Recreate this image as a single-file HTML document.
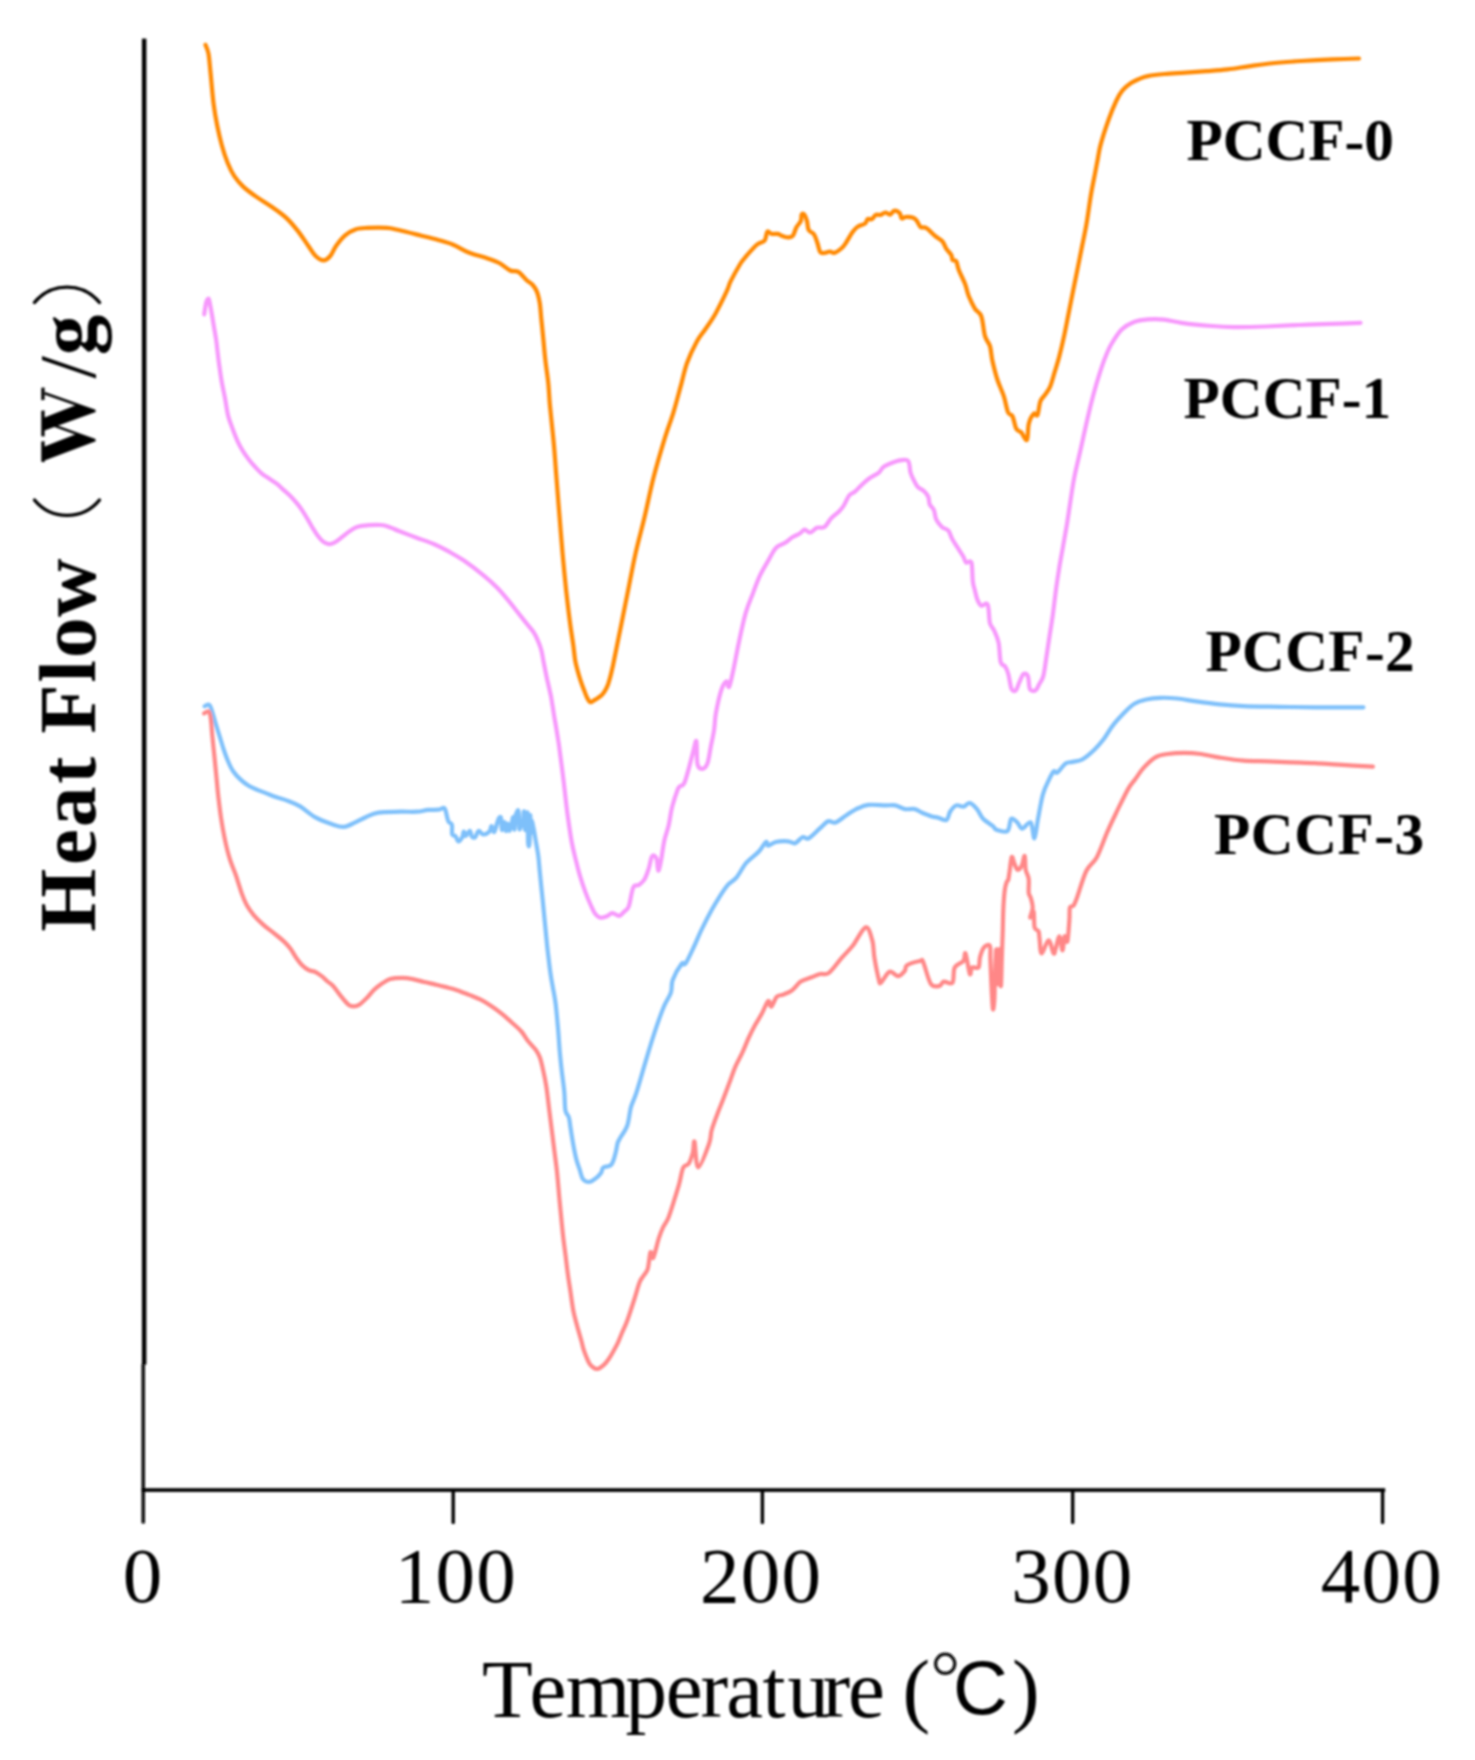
<!DOCTYPE html>
<html><head><meta charset="utf-8"><title>Heat Flow</title>
<style>html,body{margin:0;padding:0;background:#fff;}svg{display:block;}</style>
</head><body>
<svg width="1475" height="1760" viewBox="0 0 1475 1760">
<rect width="1475" height="1760" fill="#fff"/>
<defs><filter id="bl" x="0" y="0" width="1475" height="1760" filterUnits="userSpaceOnUse"><feGaussianBlur stdDeviation="0.8"/></filter></defs>
<g filter="url(#bl)">
<rect x="141.9" y="38.6" width="4.5" height="1326" fill="#000"/>
<rect x="141.5" y="1363.6" width="3.5" height="160" rx="1.2" fill="#0a0a0a"/>
<rect x="141.6" y="1488.2" width="1243.6" height="3.7" fill="#000"/>
<rect x="451.5" y="1490" width="3.4" height="34" rx="1.2" fill="#000"/>
<rect x="760.7" y="1490" width="3.4" height="34" rx="1.2" fill="#000"/>
<rect x="1071.0" y="1490" width="3.4" height="34" rx="1.2" fill="#000"/>
<rect x="1380.9" y="1490" width="3.4" height="34" rx="1.2" fill="#000"/>
<text x="143.0" y="1601.5" font-family="'Liberation Serif', serif" font-size="79" letter-spacing="1.2" text-anchor="middle" fill="#000">0</text>
<text x="455.9" y="1601.5" font-family="'Liberation Serif', serif" font-size="79" letter-spacing="1.2" text-anchor="middle" fill="#000">100</text>
<text x="761.1" y="1601.5" font-family="'Liberation Serif', serif" font-size="79" letter-spacing="1.2" text-anchor="middle" fill="#000">200</text>
<text x="1072.3" y="1601.5" font-family="'Liberation Serif', serif" font-size="79" letter-spacing="1.2" text-anchor="middle" fill="#000">300</text>
<text x="1381.8" y="1601.5" font-family="'Liberation Serif', serif" font-size="79" letter-spacing="1.2" text-anchor="middle" fill="#000">400</text>
<text y="1716.5" font-family="'Liberation Serif', serif" font-size="83" fill="#000"><tspan x="482.1">T</tspan><tspan x="529.5">e</tspan><tspan x="565.8">m</tspan><tspan x="625.5">p</tspan><tspan x="665.8">e</tspan><tspan x="700.6">r</tspan><tspan x="726.3">a</tspan><tspan x="762.5">t</tspan><tspan x="787.4">u</tspan><tspan x="822.6">r</tspan><tspan x="848.0">e</tspan></text>
<text x="902.5" y="1716.5" font-family="'Liberation Serif', serif" font-size="83" fill="#000">(</text>
<text x="1011.9" y="1716.5" font-family="'Liberation Serif', serif" font-size="83" fill="#000">)</text>
<circle cx="945.2" cy="1663.8" r="9.6" fill="none" stroke="#111" stroke-width="3.2"/>
<text x="953.1" y="1713.9" font-family="'Liberation Sans', sans-serif" font-size="76" fill="#000">C</text>
<text x="1186.5" y="160.3" font-family="'Liberation Serif', serif" font-weight="bold" font-size="59.3" fill="#000">PCCF-0</text>
<text x="1183.6" y="418.4" font-family="'Liberation Serif', serif" font-weight="bold" font-size="59.3" fill="#000">PCCF-1</text>
<text x="1205.6" y="671" font-family="'Liberation Serif', serif" font-weight="bold" font-size="59.3" letter-spacing="0.3" fill="#000">PCCF-2</text>
<text x="1214" y="853.5" font-family="'Liberation Serif', serif" font-weight="bold" font-size="59.3" letter-spacing="0.55" fill="#000">PCCF-3</text>
<g transform="translate(94.6,0) rotate(-90)">
<text x="-931.8" y="0" font-family="'Liberation Serif', serif" font-weight="bold" font-size="81" fill="#000">H</text>
<text x="-864.9" y="0" font-family="'Liberation Serif', serif" font-weight="bold" font-size="81" fill="#000">e</text>
<text x="-826.9" y="0" font-family="'Liberation Serif', serif" font-weight="bold" font-size="81" fill="#000">a</text>
<text x="-783.8" y="0" font-family="'Liberation Serif', serif" font-weight="bold" font-size="81" fill="#000">t</text>
<text x="-733.7" y="0" font-family="'Liberation Serif', serif" font-weight="bold" font-size="81" fill="#000">F</text>
<text x="-682.6" y="0" font-family="'Liberation Serif', serif" font-weight="bold" font-size="81" fill="#000">l</text>
<text x="-658.0" y="0" font-family="'Liberation Serif', serif" font-weight="bold" font-size="81" fill="#000">o</text>
<text x="-616.9" y="0" font-family="'Liberation Serif', serif" font-weight="bold" font-size="81" fill="#000">w</text>
<text x="-378.5" y="0" font-family="'Liberation Serif', serif" font-weight="normal" font-size="81" fill="#000">/</text>
<text x="-355.2" y="0" font-family="'Liberation Serif', serif" font-weight="bold" font-size="81" fill="#000">g</text>
</g>
<path d="M41.3,441.6 L44.6,441.2 L44.6,446.6 L77,433.8 L95.6,439.4 L95.6,441.2 L44.6,460.6 L44.6,462.2 L41.3,461.8 Z M41.3,410.8 L44.6,410.4 L44.6,417.6 L76.2,405 L95.6,410.2 L95.6,412 L44.6,430.6 L44.6,436.6 L41.3,436.2 Z M41.3,387.8 L44.6,387.4 L44.6,399.8 L41.3,400.2 Z" fill="#000"/>
<path d="M95,440.2 L48,423.4 M95,411 L44.6,393.2" stroke="#000" stroke-width="2.6" fill="none"/>
<path d="M34.5,500 A42,42 0 0 0 99.5,500" fill="none" stroke="#000" stroke-width="3.4" stroke-linecap="round"/>
<path d="M34.5,302.5 A42,42 0 0 1 99.5,302.5" fill="none" stroke="#000" stroke-width="3.4" stroke-linecap="round"/>
<path d="M205.5,44.8 C206.0,46.3 207.6,48.7 208.5,53.6 C209.4,58.5 209.8,65.9 210.7,74.3 C211.5,82.7 212.5,95.3 213.6,103.9 C214.7,112.5 215.9,119.1 217.3,126.0 C218.7,132.9 220.1,139.0 221.8,145.2 C223.5,151.4 225.6,157.8 227.7,163.0 C229.8,168.2 231.7,172.3 234.3,176.2 C236.9,180.1 239.5,183.1 243.2,186.6 C246.9,190.1 251.8,193.6 256.5,196.9 C261.2,200.2 266.3,203.1 271.2,206.5 C276.1,209.9 281.6,213.5 286.0,217.6 C290.4,221.7 294.1,226.2 297.8,230.9 C301.5,235.6 305.2,241.5 308.2,245.7 C311.2,249.9 313.0,253.6 315.6,256.0 C318.2,258.4 321.2,260.4 323.7,260.4 C326.1,260.4 328.2,258.4 330.3,256.0 C332.4,253.6 333.7,249.1 336.2,245.7 C338.7,242.2 341.9,238.0 345.1,235.3 C348.3,232.6 351.7,230.6 355.4,229.4 C359.1,228.2 362.1,228.2 367.3,227.9 C372.5,227.6 381.8,227.5 386.8,227.8 C391.9,228.1 392.0,228.5 397.6,229.8 C403.2,231.1 413.9,233.8 420.7,235.5 C427.5,237.2 432.9,238.5 438.3,240.0 C443.7,241.5 448.2,242.7 453.2,244.7 C458.2,246.7 462.5,249.9 468.1,252.2 C473.8,254.5 481.9,256.5 487.1,258.3 C492.3,260.1 495.5,261.0 499.3,263.0 C503.1,265.0 507.0,269.0 510.2,270.5 C513.4,272.0 515.6,270.3 518.3,271.9 C521.0,273.5 524.1,277.9 526.4,280.0 C528.7,282.1 530.6,282.6 532.3,284.5 C534.0,286.4 535.6,288.4 536.8,291.4 C538.0,294.4 538.9,298.0 539.7,302.7 C540.5,307.4 540.8,314.1 541.4,319.8 C542.0,325.5 542.5,330.2 543.1,336.8 C543.8,343.4 544.4,351.9 545.3,359.5 C546.1,367.1 547.4,374.7 548.2,382.3 C549.0,389.9 549.2,397.4 549.9,405.0 C550.6,412.6 551.5,420.1 552.2,427.7 C553.0,435.3 553.8,442.9 554.4,450.5 C555.0,458.1 555.4,464.1 556.1,473.2 C556.8,482.3 557.9,495.5 558.6,505.0 C559.4,514.5 560.0,522.0 560.6,530.0 C561.2,538.0 561.9,545.8 562.5,552.8 C563.1,559.8 563.7,565.8 564.3,572.0 C564.9,578.2 565.5,584.0 566.1,590.0 C566.8,596.0 567.5,602.1 568.2,608.2 C568.9,614.3 569.7,620.4 570.5,626.4 C571.3,632.4 572.4,638.9 573.2,644.5 C574.0,650.1 574.4,655.7 575.1,660.0 C575.8,664.3 576.6,666.8 577.5,670.2 C578.4,673.6 579.4,676.9 580.5,680.3 C581.6,683.7 583.1,687.7 584.2,690.5 C585.3,693.3 585.9,695.3 586.9,697.3 C587.9,699.2 589.2,701.7 590.3,702.2 C591.4,702.7 592.6,701.1 593.7,700.5 C594.8,699.9 595.7,699.6 597.1,698.6 C598.5,697.6 600.8,696.1 602.2,694.6 C603.6,693.1 604.6,691.6 605.6,689.8 C606.6,688.0 607.4,686.1 608.3,683.7 C609.1,681.3 610.0,678.1 610.7,675.3 C611.4,672.5 612.1,669.3 612.7,666.8 C613.3,664.2 612.7,666.7 614.1,660.0 C615.5,653.3 618.5,638.1 620.9,626.4 C623.2,614.7 625.8,602.1 628.2,590.0 C630.6,577.9 632.8,565.7 635.5,553.6 C638.2,541.5 641.5,530.0 644.5,517.3 C647.5,504.6 650.3,490.3 653.6,477.3 C656.9,464.3 661.2,450.0 664.5,439.1 C667.8,428.2 670.8,421.1 673.6,411.8 C676.4,402.6 679.1,391.8 681.4,383.6 C683.6,375.4 684.6,369.6 687.1,362.7 C689.6,355.8 693.6,347.4 696.6,341.9 C699.6,336.4 701.9,334.2 705.1,329.5 C708.3,324.8 712.0,319.9 715.6,313.4 C719.2,306.9 724.5,296.0 727.0,290.6 C729.5,285.2 728.5,285.5 730.7,281.1 C732.9,276.7 737.8,268.0 740.2,264.0 C742.6,260.0 743.6,259.4 745.3,257.3 C747.0,255.2 748.5,253.3 750.6,251.1 C752.7,248.9 755.2,245.9 757.6,244.1 C760.0,242.3 763.1,242.6 764.7,240.5 C766.3,238.4 766.1,232.8 767.3,231.7 C768.5,230.6 769.9,233.5 771.7,233.9 C773.5,234.3 776.1,233.5 777.9,233.9 C779.7,234.3 780.5,235.5 782.3,236.1 C784.1,236.7 786.7,237.5 788.5,237.4 C790.3,237.3 791.6,237.4 792.9,235.7 C794.2,234.0 795.1,229.7 796.4,227.3 C797.7,224.9 799.9,223.2 800.8,221.1 C801.7,219.0 801.1,215.6 801.7,214.5 C802.3,213.4 803.4,213.4 804.3,214.5 C805.2,215.6 806.3,218.5 807.0,221.1 C807.7,223.7 807.5,227.8 808.7,230.0 C809.9,232.2 812.5,232.2 814.0,234.4 C815.5,236.6 816.5,240.3 817.5,243.2 C818.5,246.1 819.0,250.4 820.2,252.0 C821.4,253.6 823.0,253.0 824.6,252.9 C826.2,252.8 828.3,251.5 829.9,251.5 C831.5,251.5 832.4,253.4 834.3,252.9 C836.2,252.4 839.4,250.1 841.3,248.5 C843.2,246.9 843.8,246.0 845.7,243.2 C847.6,240.4 850.7,234.5 852.8,231.7 C854.9,228.9 856.1,227.8 858.1,226.4 C860.1,225.1 863.4,224.8 865.0,223.6 C866.6,222.4 866.6,219.8 867.7,219.1 C868.8,218.4 870.4,219.9 871.8,219.2 C873.1,218.5 874.3,215.6 875.8,214.9 C877.3,214.2 879.0,215.3 880.6,214.9 C882.2,214.5 883.7,212.6 885.3,212.5 C886.9,212.4 888.6,214.9 890.1,214.6 C891.6,214.3 892.6,211.1 894.2,210.8 C895.8,210.5 898.4,211.7 899.6,212.9 C900.8,214.2 900.6,217.6 901.6,218.3 C902.6,219.0 903.9,217.1 905.7,217.0 C907.5,216.9 910.7,217.0 912.5,217.6 C914.3,218.2 915.1,218.7 916.5,220.3 C917.9,221.9 919.0,225.7 920.6,227.0 C922.2,228.3 923.8,226.4 926.3,228.0 C928.8,229.6 933.1,234.3 935.8,236.5 C938.5,238.7 940.6,239.3 942.4,241.3 C944.1,243.3 944.8,246.5 946.3,248.8 C947.8,251.0 950.3,253.1 951.3,255.0 C952.3,256.9 951.7,258.9 952.5,260.0 C953.3,261.1 955.2,259.6 956.3,261.3 C957.3,263.0 957.3,266.3 958.8,270.0 C960.2,273.7 963.3,279.4 965.0,283.8 C966.7,288.1 967.1,292.1 968.8,296.2 C970.5,300.4 972.9,305.4 975.0,308.8 C977.1,312.1 979.6,311.7 981.3,316.2 C983.0,320.8 983.5,331.2 985.0,336.2 C986.5,341.2 988.8,342.1 990.0,346.2 C991.2,350.4 991.2,355.6 992.5,361.2 C993.8,366.9 995.6,374.2 997.5,380.0 C999.4,385.8 1002.0,390.8 1003.8,396.2 C1005.6,401.7 1006.6,409.2 1008.1,412.5 C1009.6,415.8 1011.1,413.5 1012.5,416.2 C1013.9,419.0 1014.8,426.0 1016.3,428.8 C1017.8,431.5 1019.5,430.6 1021.3,432.5 C1023.1,434.4 1025.7,441.5 1026.9,440.0 C1028.2,438.5 1027.7,428.1 1028.8,423.8 C1029.9,419.4 1032.3,415.2 1033.8,413.8 C1035.2,412.3 1036.4,417.1 1037.5,415.0 C1038.6,412.9 1039.1,404.7 1040.5,401.1 C1041.9,397.6 1044.3,396.2 1045.9,393.7 C1047.5,391.2 1048.8,390.0 1050.3,386.3 C1051.8,382.6 1053.3,376.5 1054.8,371.6 C1056.3,366.7 1057.6,363.0 1059.2,356.8 C1060.8,350.6 1062.8,342.0 1064.4,334.6 C1066.0,327.2 1067.3,319.9 1068.8,312.5 C1070.3,305.1 1071.7,297.7 1073.2,290.3 C1074.7,282.9 1076.2,275.6 1077.7,268.2 C1079.2,260.8 1080.6,253.4 1082.1,246.0 C1083.6,238.6 1085.0,232.5 1086.5,223.9 C1088.0,215.3 1089.6,202.4 1091.0,194.3 C1092.4,186.2 1093.6,180.8 1094.7,175.1 C1095.8,169.4 1096.6,165.0 1097.6,160.0 C1098.6,155.0 1098.7,151.8 1100.5,145.1 C1102.3,138.4 1105.9,127.3 1108.5,120.0 C1111.1,112.7 1113.9,105.9 1116.2,101.0 C1118.5,96.1 1120.0,93.4 1122.5,90.4 C1125.0,87.4 1128.2,85.0 1131.0,83.1 C1133.8,81.2 1136.6,80.1 1139.4,78.9 C1142.2,77.7 1143.6,76.9 1147.8,76.1 C1152.0,75.3 1158.3,74.6 1164.6,74.0 C1170.9,73.4 1178.6,73.1 1185.6,72.6 C1192.6,72.1 1199.6,71.6 1206.6,71.1 C1213.6,70.6 1220.6,70.2 1227.6,69.4 C1234.6,68.6 1241.6,67.3 1248.6,66.3 C1255.6,65.3 1260.9,64.4 1269.7,63.5 C1278.5,62.6 1290.7,61.7 1301.2,61.0 C1311.7,60.3 1323.1,59.7 1332.7,59.3 C1342.3,58.9 1354.6,58.6 1359.0,58.5" fill="none" stroke="#FF8800" stroke-width="4.2" stroke-linejoin="round" stroke-linecap="round"/>
<path d="M204.2,314.4 C204.5,312.3 205.6,304.7 206.3,302.1 C207.1,299.5 208.1,298.4 208.7,298.7 C209.3,299.0 209.4,301.3 210.0,304.1 C210.6,306.9 211.4,311.8 212.1,315.7 C212.8,319.6 213.4,323.6 214.1,327.7 C214.8,331.8 215.6,335.9 216.2,340.0 C216.8,344.1 217.1,348.0 217.6,352.0 C218.1,356.0 218.4,359.2 219.1,364.1 C219.8,369.0 220.6,375.4 221.6,381.1 C222.6,386.8 223.9,392.5 225.0,398.2 C226.1,403.9 226.8,410.2 228.0,415.2 C229.2,420.2 230.7,423.7 232.3,428.0 C233.9,432.3 235.6,436.8 237.4,440.8 C239.2,444.8 241.3,448.5 243.4,451.9 C245.5,455.3 248.1,458.5 250.0,461.0 C251.9,463.5 253.0,464.7 255.0,466.8 C257.0,468.9 259.5,471.7 261.8,473.6 C264.1,475.5 266.1,476.6 268.6,478.3 C271.1,480.0 274.2,481.8 276.7,483.7 C279.2,485.6 281.2,487.8 283.5,489.8 C285.8,491.8 288.1,493.6 290.3,495.9 C292.6,498.2 295.0,500.9 297.0,503.4 C299.0,505.9 300.7,508.1 302.5,510.8 C304.3,513.5 306.2,516.9 307.9,519.7 C309.6,522.5 311.0,525.2 312.6,527.8 C314.2,530.4 315.7,533.0 317.4,535.3 C319.1,537.6 320.9,539.9 322.8,541.4 C324.7,542.9 327.0,543.9 328.9,544.1 C330.8,544.3 332.1,543.8 334.3,542.7 C336.5,541.6 339.4,539.1 341.8,537.3 C344.2,535.5 346.4,533.5 348.6,531.9 C350.8,530.3 352.8,528.8 355.0,527.8 C357.2,526.8 357.5,526.3 361.8,525.8 C366.1,525.3 376.1,524.7 380.9,525.0 C385.7,525.3 387.4,526.4 390.4,527.4 C393.4,528.4 394.5,529.3 398.9,531.0 C403.3,532.7 410.7,535.5 416.6,537.7 C422.5,539.9 428.9,542.0 434.3,544.3 C439.7,546.6 444.2,549.0 449.1,551.7 C454.0,554.4 458.1,556.6 463.9,560.6 C469.7,564.6 478.3,571.2 483.8,575.7 C489.3,580.2 492.9,583.5 496.7,587.3 C500.5,591.0 503.3,594.5 506.4,598.2 C509.5,601.9 512.5,605.7 515.5,609.5 C518.5,613.3 521.5,617.1 524.5,620.9 C527.5,624.7 531.3,628.9 533.6,632.3 C535.9,635.7 536.9,638.4 538.2,641.4 C539.5,644.4 540.5,647.1 541.4,650.5 C542.3,653.9 542.8,657.8 543.6,662.0 C544.4,666.2 545.5,671.5 546.3,675.5 C547.1,679.5 547.8,682.3 548.6,685.7 C549.4,689.1 550.2,692.5 550.9,695.9 C551.6,699.3 552.0,702.8 552.6,706.2 C553.2,709.6 553.6,713.0 554.2,716.4 C554.8,719.8 555.3,722.3 556.0,726.6 C556.7,730.9 557.9,738.1 558.5,742.0 C559.1,745.9 558.8,743.5 559.6,750.0 C560.5,756.5 562.3,770.2 563.6,781.0 C564.9,791.8 566.2,804.7 567.6,814.9 C569.0,825.1 570.3,834.4 571.7,842.0 C573.1,849.6 574.6,855.0 576.0,860.8 C577.4,866.6 578.6,871.3 580.2,876.6 C581.8,881.9 583.8,887.7 585.5,892.4 C587.2,897.1 589.1,901.5 590.7,905.0 C592.3,908.5 593.3,911.3 594.9,913.4 C596.5,915.5 598.3,917.1 600.2,917.6 C602.1,918.1 604.5,917.2 606.5,916.5 C608.5,915.8 610.3,913.3 612.4,913.2 C614.5,913.1 617.2,916.2 619.2,915.9 C621.2,915.6 623.0,912.8 624.6,911.2 C626.2,909.6 627.5,910.1 628.9,906.1 C630.3,902.1 631.6,890.8 633.3,887.3 C634.9,883.8 636.9,886.3 638.8,885.0 C640.6,883.7 642.7,882.3 644.4,879.5 C646.1,876.7 647.5,872.3 648.8,868.4 C650.1,864.5 650.8,857.9 652.1,856.2 C653.4,854.6 655.5,856.1 656.5,858.5 C657.5,860.9 657.5,870.2 658.2,870.6 C659.0,871.0 660.0,865.7 661.0,860.7 C662.0,855.7 663.0,846.6 664.3,840.7 C665.6,834.8 667.4,830.7 668.7,825.2 C670.0,819.7 670.5,813.4 672.0,807.5 C673.5,801.6 676.3,793.3 677.6,789.8 C678.9,786.3 678.7,787.6 679.8,786.5 C680.9,785.4 682.7,786.2 684.2,783.2 C685.7,780.2 687.2,774.0 688.7,768.8 C690.2,763.6 691.8,756.7 693.1,752.1 C694.4,747.5 695.7,739.1 696.4,741.1 C697.1,743.1 696.5,759.7 697.5,764.3 C698.5,768.9 700.8,769.0 702.5,768.8 C704.2,768.6 706.1,766.9 707.5,763.2 C708.9,759.5 709.7,752.1 710.8,746.6 C711.9,741.1 713.2,735.6 714.1,730.0 C715.0,724.4 714.7,719.8 715.9,713.2 C717.1,706.6 719.5,695.6 721.2,690.3 C723.0,685.0 725.1,682.1 726.4,681.5 C727.7,680.9 727.9,688.8 729.1,686.8 C730.3,684.8 731.9,676.6 733.5,669.2 C735.1,661.9 736.8,652.1 738.8,642.7 C740.8,633.3 743.4,620.9 745.8,612.7 C748.1,604.5 750.5,599.6 752.9,593.4 C755.2,587.2 757.3,581.3 759.9,575.7 C762.5,570.1 766.0,564.6 768.7,559.9 C771.4,555.2 773.4,550.5 776.1,547.7 C778.8,544.9 782.0,544.7 784.7,543.0 C787.4,541.3 789.8,538.9 792.3,537.3 C794.8,535.7 797.8,534.8 799.8,533.5 C801.8,532.2 802.9,529.9 804.6,529.7 C806.4,529.5 808.2,532.8 810.3,532.5 C812.3,532.2 814.5,528.7 816.9,527.8 C819.3,526.9 822.1,528.5 824.5,526.9 C826.9,525.3 828.8,520.8 831.2,518.3 C833.6,515.8 836.7,513.8 838.7,511.7 C840.8,509.6 841.8,508.7 843.5,506.0 C845.2,503.3 847.3,497.9 849.2,495.5 C851.1,493.1 852.9,493.4 854.9,491.7 C856.9,490.0 859.1,487.3 861.5,485.1 C863.9,482.9 866.2,480.6 869.1,478.5 C872.0,476.4 876.2,474.7 878.6,472.8 C881.0,470.9 881.2,468.7 883.3,467.1 C885.3,465.5 888.1,464.4 890.9,463.3 C893.7,462.2 897.1,460.8 900.0,460.4 C902.9,460.0 906.4,458.8 908.1,460.8 C909.9,462.8 909.6,469.3 910.5,472.5 C911.4,475.7 912.5,477.6 913.7,480.0 C914.9,482.4 915.8,484.7 917.5,486.6 C919.2,488.5 922.3,489.5 924.1,491.2 C925.9,492.9 927.4,494.7 928.3,496.9 C929.2,499.1 928.8,502.2 929.7,504.4 C930.6,506.6 932.8,507.5 933.9,510.0 C935.0,512.5 934.9,516.6 936.2,519.4 C937.5,522.2 939.9,525.0 941.9,526.9 C943.9,528.8 946.7,528.6 948.4,530.6 C950.1,532.6 950.5,535.9 952.2,539.0 C953.9,542.1 956.8,546.4 958.7,549.4 C960.6,552.4 962.1,554.6 963.4,556.8 C964.6,559.0 964.9,561.5 966.2,562.5 C967.5,563.5 970.3,559.4 971.4,562.5 C972.5,565.6 972.2,576.7 972.8,581.2 C973.3,585.7 973.9,586.6 974.7,589.7 C975.5,592.8 976.4,597.4 977.5,600.0 C978.6,602.6 979.5,604.8 981.2,605.6 C982.9,606.4 986.2,601.7 987.7,604.6 C989.2,607.5 988.8,618.7 989.9,623.0 C991.0,627.3 992.8,627.3 994.2,630.6 C995.7,633.9 997.5,637.4 998.6,642.6 C999.7,647.9 999.6,658.1 1000.7,662.1 C1001.8,666.1 1003.8,664.4 1005.1,666.4 C1006.4,668.4 1007.2,670.2 1008.3,674.0 C1009.4,677.8 1010.3,686.5 1011.6,689.2 C1012.9,691.9 1014.6,691.4 1015.9,690.3 C1017.2,689.2 1017.9,685.4 1019.2,682.7 C1020.5,680.0 1022.0,675.1 1023.5,674.0 C1025.0,672.9 1026.8,673.7 1027.9,676.2 C1029.0,678.7 1028.7,686.9 1030.0,689.2 C1031.3,691.6 1034.0,691.1 1035.5,690.3 C1037.0,689.4 1038.0,686.5 1039.3,684.1 C1040.6,681.7 1042.2,680.3 1043.3,676.1 C1044.4,671.9 1045.1,665.7 1046.1,659.1 C1047.1,652.5 1048.3,644.0 1049.5,636.4 C1050.7,628.8 1052.0,621.2 1053.0,613.6 C1054.0,606.0 1054.8,598.5 1055.8,590.9 C1056.8,583.3 1058.0,575.8 1059.2,568.2 C1060.4,560.6 1061.9,553.1 1063.2,545.5 C1064.5,537.9 1066.0,530.3 1067.2,522.7 C1068.4,515.1 1069.4,507.6 1070.6,500.0 C1071.8,492.4 1072.6,486.0 1074.3,477.3 C1076.0,468.6 1078.8,457.7 1081.0,447.8 C1083.2,437.9 1085.5,427.0 1087.6,418.2 C1089.6,409.4 1091.3,402.4 1093.3,395.0 C1095.3,387.6 1097.5,380.1 1099.5,373.9 C1101.5,367.7 1103.0,362.9 1105.0,358.0 C1107.0,353.1 1108.5,349.0 1111.3,344.3 C1114.1,339.6 1117.9,333.3 1121.6,329.6 C1125.3,325.9 1129.0,323.9 1133.4,322.2 C1137.8,320.5 1143.1,319.8 1148.2,319.4 C1153.3,319.0 1158.5,319.0 1164.1,319.6 C1169.6,320.2 1173.5,321.7 1181.5,322.8 C1189.5,323.9 1203.2,325.3 1211.9,326.0 C1220.6,326.7 1224.6,327.0 1233.6,327.1 C1242.6,327.2 1255.2,326.9 1266.1,326.5 C1276.9,326.1 1287.8,325.4 1298.7,325.0 C1309.6,324.6 1320.9,324.3 1331.2,323.9 C1341.5,323.5 1355.6,323.0 1360.5,322.8" fill="none" stroke="#F797FC" stroke-width="4.2" stroke-linejoin="round" stroke-linecap="round"/>
<path d="M204.6,706.2 C205.4,706.0 208.0,704.0 209.2,704.7 C210.4,705.4 210.8,707.3 211.8,710.3 C212.8,713.3 214.1,718.3 215.4,722.6 C216.7,726.9 218.1,731.5 219.5,735.9 C220.9,740.3 222.2,745.1 223.6,749.2 C225.0,753.3 226.2,756.8 227.7,760.4 C229.2,764.0 230.6,767.5 232.8,770.7 C235.0,774.0 238.2,777.4 240.9,779.9 C243.6,782.4 246.2,784.3 249.1,786.0 C251.9,787.7 255.3,789.0 258.0,790.1 C260.7,791.2 262.3,791.8 265.3,792.9 C268.3,794.0 272.4,795.7 276.0,797.0 C279.6,798.3 283.2,799.0 287.2,800.6 C291.2,802.2 295.4,803.6 300.1,806.4 C304.8,809.2 310.1,814.4 315.5,817.4 C320.9,820.4 328.1,822.9 332.8,824.5 C337.5,826.1 340.2,827.2 343.8,826.9 C347.4,826.6 351.1,824.3 354.7,822.7 C358.3,821.1 361.7,818.9 365.7,817.2 C369.7,815.5 372.7,813.5 378.5,812.6 C384.3,811.7 394.1,811.9 400.5,811.7 C406.9,811.6 412.4,812.0 417.0,811.7 C421.6,811.4 424.5,810.2 428.0,809.9 C431.5,809.6 435.5,810.0 438.1,809.7 C440.7,809.4 442.2,807.9 443.4,807.9 C444.6,807.9 444.7,808.1 445.4,809.9 C446.1,811.7 446.9,816.7 447.5,818.7 C448.1,820.7 448.1,821.1 448.8,822.1 C449.5,823.1 451.3,822.8 451.9,824.8 C452.5,826.8 451.6,832.4 452.2,834.3 C452.8,836.2 454.6,835.2 455.6,836.4 C456.7,837.6 457.4,841.4 458.5,841.5 C459.6,841.6 461.5,838.6 462.4,837.0 C463.3,835.4 463.1,831.8 463.7,831.6 C464.3,831.4 464.8,836.1 465.8,836.0 C466.8,835.9 468.8,830.8 469.8,830.9 C470.8,831.0 471.0,835.5 471.9,836.5 C472.8,837.5 474.2,837.9 475.3,837.0 C476.4,836.1 477.2,831.3 478.6,830.9 C480.0,830.5 481.6,834.4 483.4,834.5 C485.2,834.6 488.1,832.9 489.5,831.5 C490.9,830.1 490.7,826.1 491.5,826.2 C492.3,826.3 493.3,832.5 494.2,832.0 C495.1,831.5 496.2,825.8 497.0,823.5 C497.8,821.2 498.3,819.0 499.0,818.1 C499.7,817.2 500.5,816.1 501.0,818.1 C501.5,820.1 501.4,829.3 502.0,830.0 C502.6,830.7 503.7,821.9 504.4,822.1 C505.1,822.3 505.4,830.8 506.0,831.0 C506.6,831.2 507.2,823.5 507.8,823.5 C508.4,823.5 508.8,831.1 509.5,831.0 C510.2,830.9 511.3,825.1 511.9,822.8 C512.5,820.5 512.8,816.3 513.2,817.4 C513.7,818.5 514.2,829.7 514.6,829.6 C515.0,829.5 514.8,819.8 515.3,816.7 C515.8,813.7 516.8,812.1 517.3,811.3 C517.8,810.5 518.2,808.9 518.6,811.9 C519.0,814.9 519.1,826.9 519.5,829.0 C519.9,831.1 520.2,825.5 520.7,824.8 C521.2,824.1 522.1,827.0 522.7,824.8 C523.3,822.5 523.7,810.4 524.1,811.3 C524.5,812.2 524.4,829.8 525.0,830.0 C525.6,830.2 527.0,810.5 527.5,812.6 C528.0,814.7 527.8,837.4 528.1,842.5 C528.4,847.6 529.1,847.5 529.5,843.0 C529.9,838.5 530.0,817.0 530.2,815.3 C530.4,813.6 530.6,832.0 530.8,832.9 C531.0,833.8 531.0,821.6 531.5,820.8 C532.0,820.0 532.8,824.8 533.5,828.0 C534.2,831.2 534.8,835.5 535.6,840.0 C536.4,844.5 537.5,850.2 538.2,855.3 C538.9,860.4 539.2,865.6 539.7,870.7 C540.2,875.8 540.7,880.9 541.2,886.0 C541.7,891.1 542.3,896.2 542.8,901.3 C543.3,906.4 543.8,911.6 544.3,916.7 C544.8,921.8 545.2,926.0 545.8,932.0 C546.4,938.0 547.1,945.7 547.9,952.5 C548.7,959.3 549.5,966.9 550.4,972.9 C551.2,978.9 552.1,983.2 553.0,988.3 C553.9,993.4 554.7,996.6 555.6,1003.6 C556.5,1010.6 557.5,1022.6 558.2,1030.5 C558.9,1038.4 559.1,1044.1 559.7,1050.9 C560.3,1057.7 561.0,1064.6 561.8,1071.4 C562.6,1078.2 563.7,1085.4 564.3,1091.9 C564.9,1098.4 564.6,1106.0 565.4,1110.3 C566.2,1114.6 568.0,1114.6 568.9,1117.5 C569.8,1120.4 569.8,1123.4 570.5,1127.7 C571.2,1132.0 572.1,1138.0 573.0,1143.1 C573.9,1148.2 575.0,1154.0 576.1,1158.4 C577.2,1162.8 578.6,1166.3 579.7,1169.7 C580.8,1173.1 581.3,1176.9 582.8,1178.9 C584.3,1181.0 586.9,1182.0 588.9,1182.0 C590.9,1182.0 593.0,1180.5 595.0,1178.9 C597.0,1177.4 599.8,1174.6 601.2,1172.7 C602.6,1170.8 601.5,1168.9 603.2,1167.6 C604.9,1166.2 609.4,1167.0 611.4,1164.6 C613.4,1162.2 614.5,1156.9 615.5,1153.3 C616.5,1149.7 616.9,1145.6 617.6,1143.1 C618.4,1140.6 618.4,1141.1 620.0,1138.2 C621.6,1135.3 625.5,1130.7 627.3,1125.5 C629.1,1120.3 629.4,1112.8 630.9,1107.3 C632.4,1101.8 634.0,1100.3 636.4,1092.7 C638.8,1085.1 642.5,1071.8 645.5,1061.8 C648.5,1051.8 651.5,1041.8 654.5,1032.7 C657.5,1023.6 660.9,1014.0 663.6,1007.3 C666.3,1000.6 669.4,997.2 670.9,992.7 C672.4,988.2 670.9,984.9 672.7,980.0 C674.5,975.1 679.7,966.3 681.8,963.6 C683.9,960.9 683.4,966.6 685.5,963.6 C687.6,960.6 691.8,951.2 694.5,945.5 C697.2,939.8 698.8,935.2 701.8,929.1 C704.8,923.0 709.2,914.5 712.2,909.1 C715.2,903.7 716.9,901.0 719.5,896.9 C722.1,892.8 725.2,888.0 728.1,884.7 C731.0,881.5 733.6,881.1 736.6,877.4 C739.6,873.7 742.7,867.0 746.4,862.7 C750.1,858.4 755.4,855.2 758.6,851.8 C761.9,848.3 764.3,843.0 765.9,842.0 C767.5,841.0 766.7,845.7 768.3,845.7 C769.9,845.7 772.4,842.7 775.7,842.0 C779.0,841.3 784.6,841.1 787.9,841.3 C791.1,841.5 792.8,843.9 795.2,843.2 C797.6,842.5 800.3,837.9 802.5,837.1 C804.7,836.3 805.8,839.7 808.6,838.3 C811.5,836.9 816.4,831.4 819.6,828.6 C822.9,825.8 825.5,822.3 828.1,821.3 C830.8,820.3 832.5,823.5 835.5,822.5 C838.5,821.5 842.9,817.4 846.4,815.2 C849.9,813.0 852.5,810.8 856.2,809.1 C859.9,807.4 863.5,805.5 868.4,804.9 C873.3,804.3 881.0,805.3 885.5,805.4 C890.0,805.5 892.0,804.8 895.3,805.4 C898.5,806.0 901.8,808.5 905.0,809.1 C908.2,809.7 911.9,808.5 914.8,809.1 C917.6,809.7 919.2,811.5 922.1,812.7 C925.0,813.9 929.2,815.6 931.9,816.4 C934.5,817.2 935.6,817.0 938.0,817.6 C940.4,818.2 944.5,821.0 946.5,820.0 C948.5,819.0 948.6,813.9 950.2,811.5 C951.8,809.1 954.1,806.2 956.3,805.4 C958.5,804.6 961.4,807.0 963.6,806.6 C965.8,806.2 967.5,802.6 969.7,803.0 C971.9,803.4 974.8,806.5 977.0,809.1 C979.2,811.7 980.5,816.0 983.1,818.8 C985.8,821.6 990.6,824.3 992.9,826.1 C995.1,827.9 994.2,829.0 996.6,829.8 C999.0,830.6 1005.1,832.8 1007.5,831.0 C1009.9,829.2 1009.6,820.2 1011.2,818.8 C1012.8,817.4 1015.5,820.9 1017.3,822.5 C1019.1,824.1 1020.0,828.6 1022.2,828.6 C1024.4,828.6 1028.7,820.9 1030.7,822.5 C1032.7,824.1 1033.2,838.9 1034.4,838.3 C1035.6,837.7 1036.6,826.1 1038.0,818.8 C1039.4,811.5 1041.1,800.9 1042.9,794.4 C1044.7,787.9 1047.2,783.5 1049.0,779.7 C1050.8,775.9 1052.3,772.6 1053.7,771.4 C1055.1,770.2 1055.3,773.8 1057.3,772.5 C1059.3,771.2 1063.0,765.3 1065.6,763.5 C1068.2,761.7 1069.9,762.6 1072.7,761.9 C1075.5,761.2 1078.6,761.5 1082.2,759.5 C1085.8,757.5 1090.5,753.4 1094.1,750.0 C1097.7,746.6 1100.4,743.4 1103.6,739.3 C1106.8,735.1 1109.5,729.6 1113.1,725.1 C1116.6,720.6 1121.4,715.6 1124.9,712.0 C1128.5,708.4 1130.8,705.8 1134.4,703.7 C1138.0,701.6 1142.0,700.5 1146.3,699.5 C1150.6,698.5 1155.4,698.0 1160.5,697.8 C1165.6,697.6 1171.2,697.9 1177.1,698.5 C1183.0,699.1 1189.0,700.4 1196.1,701.4 C1203.2,702.4 1211.9,703.6 1219.8,704.4 C1227.7,705.2 1233.7,705.7 1243.6,706.1 C1253.5,706.5 1267.3,706.6 1279.2,706.8 C1291.1,707.0 1300.8,707.2 1314.8,707.3 C1328.8,707.4 1355.3,707.3 1363.4,707.3" fill="none" stroke="#7EC0FA" stroke-width="4.2" stroke-linejoin="round" stroke-linecap="round"/>
<path d="M204.1,713.4 C204.9,713.1 207.6,710.5 208.7,711.4 C209.8,712.2 210.2,714.4 210.8,718.5 C211.4,722.6 211.7,729.6 212.3,735.9 C212.9,742.2 213.7,749.5 214.4,756.3 C215.1,763.1 215.7,770.0 216.4,776.8 C217.1,783.6 217.6,790.4 218.4,797.2 C219.2,804.0 220.0,810.9 221.0,817.7 C222.0,824.5 223.2,831.3 224.6,838.1 C226.0,844.9 227.8,852.5 229.7,858.6 C231.6,864.8 234.4,871.1 235.8,875.0 C237.2,878.9 237.0,878.8 238.0,881.9 C239.0,885.0 240.5,890.0 241.9,893.9 C243.3,897.8 244.7,901.4 246.7,905.0 C248.7,908.6 251.1,912.0 253.9,915.3 C256.7,918.6 260.0,921.8 263.4,924.9 C266.8,928.0 271.1,930.8 274.5,933.6 C277.9,936.4 281.4,939.1 284.1,941.6 C286.8,944.1 288.5,946.1 290.5,948.8 C292.5,951.4 294.1,954.9 296.0,957.5 C297.9,960.1 299.5,962.6 301.6,964.7 C303.7,966.8 306.6,969.0 308.8,970.2 C311.1,971.4 312.9,970.7 315.1,971.8 C317.4,972.9 320.3,975.1 322.3,976.6 C324.3,978.1 325.2,979.4 327.0,981.0 C328.8,982.6 330.7,983.4 333.1,986.0 C335.5,988.6 338.7,993.5 341.3,996.6 C343.9,999.7 346.6,1003.2 348.6,1004.8 C350.6,1006.4 351.7,1006.4 353.5,1006.4 C355.3,1006.4 356.9,1006.3 359.2,1004.8 C361.5,1003.3 364.9,999.8 367.3,997.4 C369.7,995.0 371.4,992.4 373.8,990.1 C376.2,987.8 379.3,985.4 382.0,983.6 C384.7,981.8 386.7,980.1 390.1,979.1 C393.5,978.1 398.5,977.9 402.3,977.9 C406.1,977.9 409.2,978.4 412.9,979.1 C416.6,979.8 420.6,981.1 424.3,982.0 C428.0,982.9 431.4,983.6 434.8,984.4 C438.2,985.2 441.3,985.9 445.0,986.9 C448.7,987.9 453.0,988.9 457.0,990.2 C461.0,991.5 465.2,993.3 469.2,994.9 C473.1,996.5 477.1,997.9 480.7,999.7 C484.3,1001.5 487.4,1003.5 490.8,1005.8 C494.2,1008.0 497.6,1010.5 501.0,1013.2 C504.4,1015.9 507.8,1019.0 511.2,1022.0 C514.6,1025.0 518.6,1028.3 521.4,1031.5 C524.2,1034.7 525.6,1038.0 528.0,1041.0 C530.4,1044.0 533.5,1046.9 535.5,1049.6 C537.5,1052.3 538.5,1053.8 539.8,1057.2 C541.1,1060.6 542.0,1065.2 543.1,1070.1 C544.2,1074.9 545.3,1080.0 546.3,1086.3 C547.3,1092.6 548.1,1100.7 549.0,1107.9 C549.9,1115.1 550.8,1122.3 551.7,1129.5 C552.6,1136.7 553.5,1143.9 554.4,1151.1 C555.3,1158.3 556.3,1164.8 557.1,1172.7 C557.9,1180.6 558.7,1191.2 559.4,1198.7 C560.1,1206.2 560.6,1211.2 561.2,1217.5 C561.8,1223.8 562.4,1230.0 563.1,1236.2 C563.8,1242.5 564.7,1248.8 565.5,1255.0 C566.3,1261.2 566.9,1267.5 567.8,1273.7 C568.6,1280.0 569.7,1286.2 570.6,1292.5 C571.5,1298.8 572.3,1305.6 573.4,1311.2 C574.5,1316.8 575.9,1321.2 577.2,1326.2 C578.6,1331.2 580.5,1337.5 581.5,1341.3 C582.5,1345.1 582.7,1346.6 583.5,1349.2 C584.3,1351.8 585.3,1354.4 586.3,1356.8 C587.3,1359.2 588.4,1362.0 589.6,1363.8 C590.8,1365.6 592.1,1366.6 593.3,1367.5 C594.5,1368.4 595.7,1369.0 597.0,1369.0 C598.3,1369.0 599.5,1368.2 600.9,1367.2 C602.3,1366.2 604.1,1364.7 605.5,1363.2 C606.9,1361.7 608.0,1360.0 609.2,1358.3 C610.4,1356.6 611.1,1355.3 612.5,1352.8 C613.9,1350.3 616.2,1346.2 617.7,1343.1 C619.2,1340.0 619.9,1337.8 621.5,1334.0 C623.1,1330.2 625.2,1326.2 627.3,1320.5 C629.4,1314.8 632.0,1306.4 634.1,1300.0 C636.2,1293.6 638.0,1286.4 639.6,1282.3 C641.2,1278.2 642.3,1277.8 643.7,1275.5 C645.1,1273.2 646.7,1272.6 647.8,1268.7 C648.9,1264.8 649.6,1254.1 650.5,1252.3 C651.4,1250.5 651.8,1260.1 653.2,1257.8 C654.6,1255.5 657.1,1243.7 658.7,1238.7 C660.3,1233.7 661.2,1231.2 662.8,1227.8 C664.4,1224.4 666.4,1222.5 668.2,1218.2 C670.0,1213.9 671.9,1207.5 673.7,1201.8 C675.5,1196.1 677.5,1189.8 679.1,1184.1 C680.7,1178.4 681.6,1171.1 683.2,1167.7 C684.8,1164.3 687.1,1166.1 688.7,1163.6 C690.3,1161.1 691.8,1156.3 692.8,1152.7 C693.8,1149.1 693.6,1139.4 694.5,1141.8 C695.4,1144.2 695.8,1167.0 698.2,1167.3 C700.6,1167.6 706.9,1149.8 709.1,1143.6 C711.4,1137.4 710.2,1135.3 711.7,1130.0 C713.2,1124.7 716.4,1116.6 718.2,1111.8 C720.0,1107.0 720.7,1105.6 722.5,1100.9 C724.3,1096.2 726.9,1089.4 729.1,1083.6 C731.3,1077.8 733.4,1071.3 735.6,1066.2 C737.8,1061.1 739.9,1057.9 742.1,1053.2 C744.3,1048.5 746.4,1042.7 748.6,1038.0 C750.8,1033.3 752.9,1029.0 755.1,1025.0 C757.3,1021.0 759.4,1018.1 761.6,1014.1 C763.8,1010.1 766.5,1002.4 768.1,1001.1 C769.7,999.8 770.0,1007.2 771.4,1006.5 C772.8,1005.8 774.8,998.8 776.8,996.8 C778.8,994.8 780.8,995.7 783.3,994.6 C785.8,993.5 789.1,992.5 792.0,990.3 C794.9,988.1 797.5,983.8 800.7,981.6 C804.0,979.4 808.2,978.6 811.5,977.3 C814.8,976.0 817.3,974.7 820.2,974.0 C823.1,973.3 825.3,975.6 828.9,972.9 C832.5,970.2 837.9,962.2 841.9,957.7 C845.9,953.2 848.7,950.8 852.7,945.8 C856.7,940.8 862.4,928.3 865.7,927.4 C869.0,926.5 870.8,935.3 872.3,940.4 C873.8,945.5 873.3,951.2 874.4,957.7 C875.5,964.2 877.7,975.2 878.8,979.4 C879.9,983.6 879.1,984.0 880.9,982.7 C882.7,981.4 886.7,972.9 889.6,971.8 C892.5,970.7 895.8,976.4 898.3,976.2 C900.8,976.0 903.3,972.6 904.8,970.8 C906.2,969.0 904.5,966.9 907.0,965.3 C909.5,963.7 917.3,961.5 920.0,961.0 C922.7,960.5 921.4,958.3 923.2,962.1 C925.0,965.9 928.1,979.8 930.8,983.8 C933.5,987.8 937.3,986.3 939.5,985.9 C941.7,985.5 941.6,982.1 943.8,981.6 C946.0,981.1 950.7,985.1 952.5,982.7 C954.3,980.4 952.9,971.1 954.7,967.5 C956.5,963.9 961.6,963.4 963.4,961.0 C965.2,958.6 964.4,951.2 965.5,953.4 C966.6,955.6 968.8,971.6 969.9,974.0 C971.0,976.4 970.6,968.6 972.0,967.5 C973.4,966.4 977.2,969.2 978.5,967.5 C979.8,965.8 979.1,960.6 980.0,957.3 C980.9,953.9 982.4,949.3 984.0,947.4 C985.6,945.5 988.8,943.9 989.9,945.9 C991.0,947.9 990.1,952.9 990.4,959.3 C990.6,965.7 991.0,975.8 991.4,984.1 C991.8,992.4 992.4,1006.5 992.9,1009.0 C993.4,1011.5 994.1,1004.0 994.4,999.0 C994.7,994.0 994.6,987.5 994.9,979.2 C995.2,970.9 995.9,948.5 996.4,949.3 C996.9,950.1 997.4,984.1 997.9,984.1 C998.4,984.1 998.9,949.0 999.4,949.3 C999.9,949.6 1000.4,984.4 1000.8,986.1 C1001.2,987.8 1001.5,968.7 1001.8,959.3 C1002.1,949.9 1002.5,937.8 1002.8,929.5 C1003.0,921.2 1003.0,916.2 1003.3,909.6 C1003.6,903.0 1004.2,894.4 1004.8,889.7 C1005.4,885.1 1006.2,883.4 1006.8,881.7 C1007.4,880.1 1007.8,881.8 1008.3,879.8 C1008.8,877.8 1009.2,873.6 1009.8,869.8 C1010.4,866.0 1011.0,857.9 1011.8,856.9 C1012.6,855.9 1013.5,861.9 1014.5,864.0 C1015.5,866.1 1016.5,869.5 1017.7,869.8 C1018.9,870.1 1020.5,868.1 1021.7,865.8 C1022.9,863.5 1024.0,855.2 1024.7,855.9 C1025.4,856.6 1025.0,866.0 1025.7,869.8 C1026.4,873.6 1028.2,875.0 1028.7,878.8 C1029.2,882.6 1028.4,889.6 1028.7,892.7 C1029.0,895.9 1030.0,895.2 1030.7,897.7 C1031.4,900.2 1032.8,904.3 1032.7,907.6 C1032.6,910.9 1030.1,916.8 1030.2,917.5 C1030.3,918.2 1032.9,909.9 1033.6,911.6 C1034.3,913.3 1033.8,924.2 1034.6,927.5 C1035.4,930.8 1037.8,929.5 1038.6,931.5 C1039.4,933.5 1039.1,935.8 1039.6,939.4 C1040.1,943.0 1040.1,953.1 1041.6,953.3 C1043.1,953.5 1046.6,940.4 1048.6,940.4 C1050.6,940.4 1052.3,951.8 1053.5,953.3 C1054.7,954.8 1054.5,952.1 1055.5,949.3 C1056.5,946.5 1058.3,936.2 1059.5,936.4 C1060.7,936.6 1061.7,950.3 1062.5,950.3 C1063.3,950.3 1063.7,937.9 1064.5,936.4 C1065.3,934.9 1066.6,944.2 1067.4,941.4 C1068.2,938.6 1069.0,925.1 1069.4,919.5 C1069.8,913.9 1069.2,909.9 1069.9,907.6 C1070.6,905.3 1072.3,907.0 1073.4,905.6 C1074.5,904.2 1074.3,904.8 1076.5,899.0 C1078.7,893.2 1083.0,877.7 1086.4,870.8 C1089.8,863.9 1093.2,863.9 1096.7,857.5 C1100.2,851.1 1103.9,839.8 1107.1,832.4 C1110.3,825.0 1112.5,820.3 1116.0,813.2 C1119.5,806.1 1124.6,795.3 1127.8,789.6 C1131.0,783.9 1132.5,782.9 1135.2,779.2 C1137.9,775.5 1140.6,771.1 1144.0,767.4 C1147.4,763.7 1151.9,759.3 1155.8,757.1 C1159.7,754.9 1162.9,754.7 1167.6,754.0 C1172.3,753.3 1178.7,752.9 1184.2,752.9 C1189.8,752.9 1195.0,753.2 1200.9,754.0 C1206.8,754.8 1212.7,756.5 1219.8,757.6 C1226.9,758.7 1235.7,760.1 1243.6,760.7 C1251.5,761.3 1259.4,761.1 1267.3,761.4 C1275.2,761.7 1283.1,762.0 1291.0,762.3 C1298.9,762.6 1306.9,762.7 1314.8,763.1 C1322.7,763.5 1328.8,764.1 1338.5,764.7 C1348.2,765.3 1367.2,766.3 1372.9,766.6" fill="none" stroke="#FF8787" stroke-width="4.2" stroke-linejoin="round" stroke-linecap="round"/>
</g>
</svg>
</body></html>
